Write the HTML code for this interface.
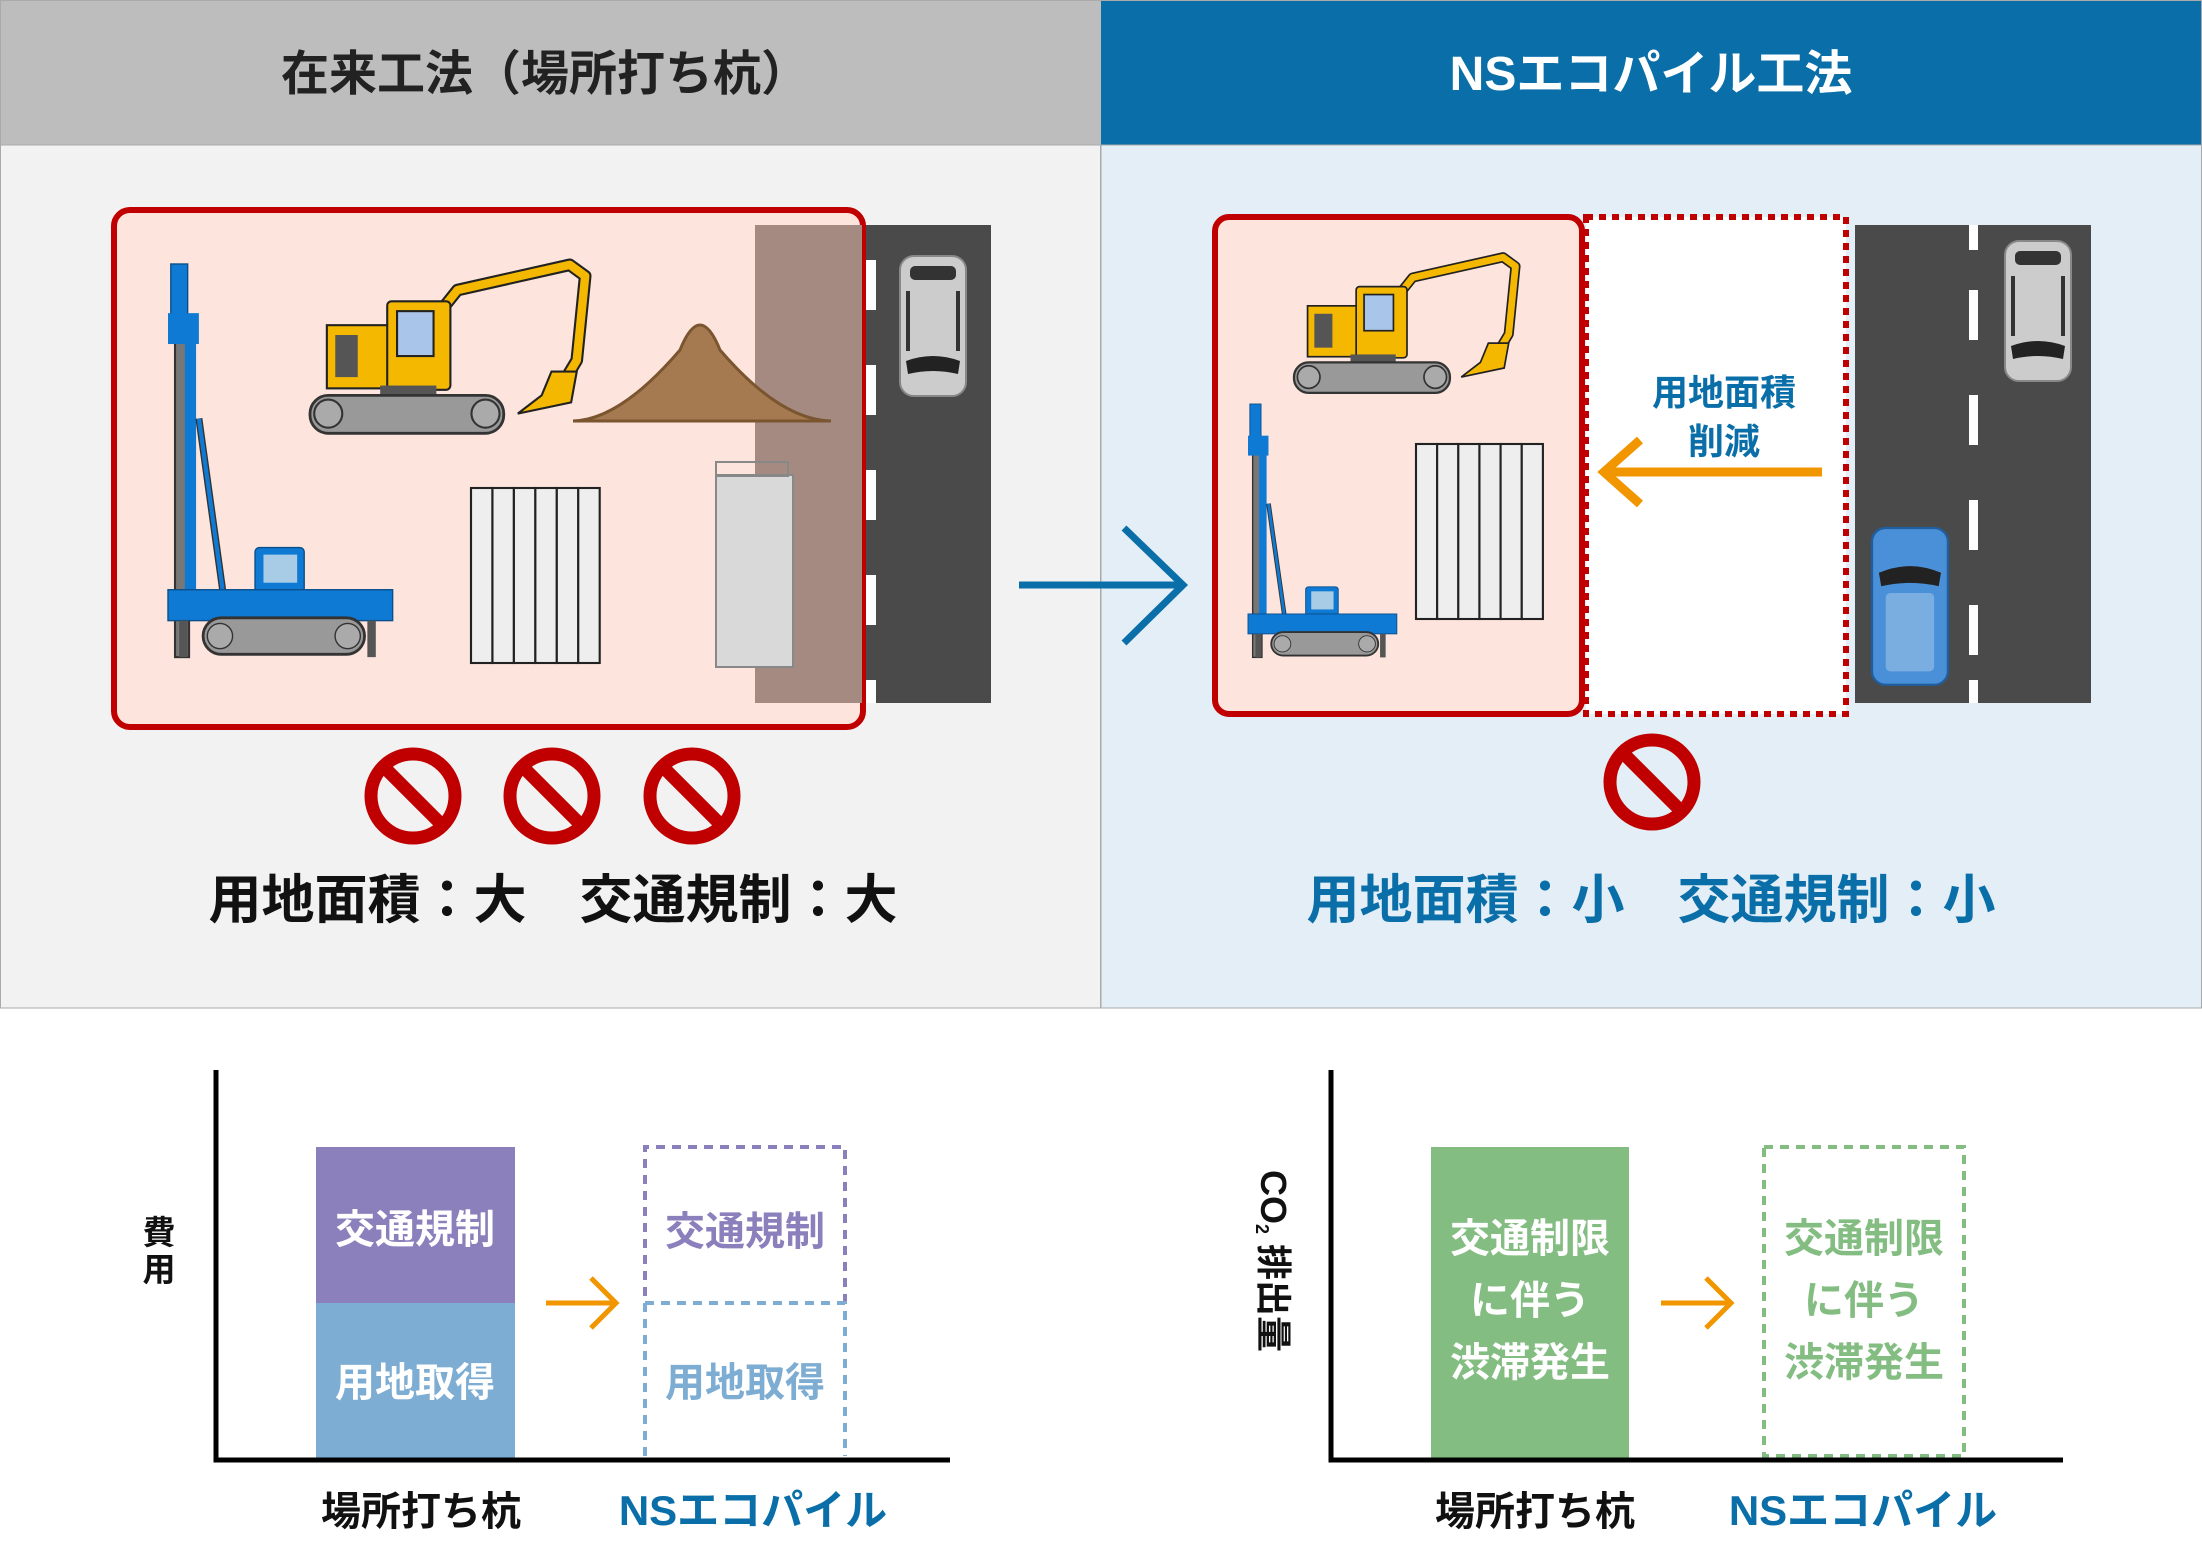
<!DOCTYPE html>
<html><head><meta charset="utf-8"><style>
html,body{margin:0;padding:0;background:#fff}
svg{display:block}
text{font-family:"Liberation Sans","Noto Sans CJK JP",sans-serif;font-weight:bold}
</style></head><body>
<svg width="2202" height="1547" viewBox="0 0 2202 1547" xmlns="http://www.w3.org/2000/svg">
<defs>
 <g id="exc">
  <path d="M85 45 L105 20 L185 2 L196 10 L190 70 L178 90" fill="none" stroke="#222" stroke-width="9" stroke-linejoin="round"/>
  <path d="M85 45 L105 20 L185 2 L196 10 L190 70 L178 90" fill="none" stroke="#f5b800" stroke-width="6" stroke-linejoin="round"/>
  <path d="M172 78 L190 78 L186 100 L148 108 L165 95 Z" fill="#f5b800" stroke="#222" stroke-width="1.5"/>
  <rect x="12" y="45" width="50" height="45" fill="#f5b800" stroke="#222" stroke-width="1.5"/>
  <rect x="55" y="28" width="45" height="63" rx="3" fill="#f5b800" stroke="#222" stroke-width="1.5"/>
  <rect x="62" y="35" width="26" height="32" fill="#a9c6ea" stroke="#222" stroke-width="1.5"/>
  <rect x="18" y="52" width="16" height="30" fill="#555"/>
  <rect x="50" y="88" width="40" height="8" fill="#555"/>
  <rect x="0" y="95" width="138" height="27" rx="13" fill="#999" stroke="#333" stroke-width="2"/>
  <circle cx="13" cy="108" r="10" fill="#aaa" stroke="#333" stroke-width="1.5"/>
  <circle cx="125" cy="108" r="10" fill="#aaa" stroke="#333" stroke-width="1.5"/>
 </g>
 <g id="pd">
  <rect x="5" y="40" width="10" height="240" fill="#777" stroke="#333" stroke-width="1.5"/>
  <rect x="2" y="0" width="12" height="55" fill="#0f7ad4" stroke="#0a4f8a" stroke-width="1"/>
  <rect x="0" y="35" width="22" height="22" fill="#0f7ad4"/>
  <rect x="12" y="40" width="8" height="200" fill="#0f7ad4"/>
  <path d="M22 110 L40 240" stroke="#333" stroke-width="5"/>
  <path d="M22 110 L40 240" stroke="#0f7ad4" stroke-width="3"/>
  <rect x="62" y="202" width="35" height="35" rx="3" fill="#0f7ad4" stroke="#0a4f8a"/>
  <rect x="68" y="207" width="24" height="20" fill="#a8cbe6"/>
  <rect x="0" y="232" width="160" height="22" fill="#0f7ad4" stroke="#0a4f8a"/>
  <rect x="25" y="252" width="115" height="26" rx="13" fill="#999" stroke="#333" stroke-width="2"/>
  <circle cx="37" cy="265" r="9" fill="#aaa" stroke="#333"/>
  <circle cx="128" cy="265" r="9" fill="#aaa" stroke="#333"/>
  <rect x="8" y="254" width="6" height="26" fill="#555"/>
  <rect x="142" y="254" width="6" height="26" fill="#555"/>
 </g>
 <g id="piles">
  <rect x="0" y="0" width="15" height="125" fill="#eee" stroke="#222" stroke-width="1.5"/>
  <rect x="15" y="0" width="15" height="125" fill="#eee" stroke="#222" stroke-width="1.5"/>
  <rect x="30" y="0" width="15" height="125" fill="#eee" stroke="#222" stroke-width="1.5"/>
  <rect x="45" y="0" width="15" height="125" fill="#eee" stroke="#222" stroke-width="1.5"/>
  <rect x="60" y="0" width="15" height="125" fill="#eee" stroke="#222" stroke-width="1.5"/>
  <rect x="75" y="0" width="15" height="125" fill="#eee" stroke="#222" stroke-width="1.5"/>
 </g>
 <g id="nosign">
  <circle cx="0" cy="0" r="42" fill="none" stroke="#c00000" stroke-width="13"/>
  <line x1="-30" y1="-30" x2="30" y2="30" stroke="#c00000" stroke-width="13"/>
 </g>
 <g id="car">
  <rect x="0" y="0" width="66" height="140" rx="14" fill="#ccc" stroke="#888" stroke-width="2"/>
  <rect x="10" y="10" width="46" height="14" rx="5" fill="#333"/>
  <path d="M6 105 Q33 95 60 105 L58 118 Q33 112 8 118 Z" fill="#222"/>
  <rect x="6" y="35" width="4" height="60" fill="#333"/>
  <rect x="56" y="35" width="4" height="60" fill="#333"/>
 </g>
</defs>

<rect x="0" y="0" width="1101" height="145" fill="#bdbdbd"/>
<rect x="1101" y="0" width="1101" height="145" fill="#0a6ea8"/>
<rect x="0.5" y="145" width="1100" height="863" fill="#f2f2f2" stroke="#aaa"/>
<rect x="1101" y="145" width="1100.5" height="863" fill="#e3eef6" stroke="#aaa"/>
<rect x="0.5" y="0.5" width="2201" height="1007.5" fill="none" stroke="#aaa"/>
<text x="545" y="90" font-size="48" text-anchor="middle" fill="#222">在来工法（場所打ち杭）</text>
<text x="1651" y="90" font-size="48" text-anchor="middle" fill="#fff">NSエコパイル工法</text>

<rect x="865" y="225" width="126" height="478" fill="#4a4a4a"/>
<g fill="#fff"><rect x="865" y="260" width="11" height="50"/><rect x="865" y="365" width="11" height="50"/><rect x="865" y="470" width="11" height="50"/><rect x="865" y="575" width="11" height="50"/><rect x="865" y="680" width="11" height="23"/></g>
<use href="#car" transform="translate(900,256)"/>
<rect x="114" y="210" width="749" height="517" rx="16" fill="#fde4dc" stroke="#c00000" stroke-width="6"/>
<rect x="755" y="225" width="107" height="478" fill="#a48a80"/>
<use href="#pd" transform="translate(168,264) scale(1.404)"/>
<use href="#exc" transform="translate(310,262) scale(1.404)"/>
<path d="M573 421 Q620 420 680 350 Q700 300 720 350 Q780 420 831 421 Z" fill="#a57a50" stroke="#7a5530" stroke-width="3"/>
<use href="#piles" transform="translate(471,488) scale(1.43,1.4)"/>
<rect x="716" y="475" width="77" height="192" fill="#d9d9d9" stroke="#888" stroke-width="2"/>
<rect x="716" y="462" width="72" height="14" fill="none" stroke="#888" stroke-width="2"/>
<use href="#nosign" transform="translate(413,796)"/>
<use href="#nosign" transform="translate(552,796)"/>
<use href="#nosign" transform="translate(692,796)"/>
<text x="553" y="918" font-size="53" text-anchor="middle" fill="#111">用地面積：大　交通規制：大</text>

<line x1="1019" y1="585" x2="1182" y2="585" stroke="#0a6ea8" stroke-width="7"/>
<polyline points="1124,528 1183,585 1124,643" fill="none" stroke="#0a6ea8" stroke-width="7"/>

<rect x="1855" y="225" width="236" height="478" fill="#4a4a4a"/>
<g fill="#fff"><rect x="1969" y="225" width="9" height="25"/><rect x="1969" y="290" width="9" height="50"/><rect x="1969" y="395" width="9" height="50"/><rect x="1969" y="500" width="9" height="50"/><rect x="1969" y="605" width="9" height="50"/><rect x="1969" y="680" width="9" height="23"/></g>
<use href="#car" transform="translate(2005,241)"/>
<g transform="translate(1872,528) scale(1.15,1.12)">
 <rect x="0" y="0" width="66" height="140" rx="12" fill="#4a90d9" stroke="#1f5fa0" stroke-width="2"/>
 <path d="M6 40 Q33 28 60 40 L58 52 Q33 46 8 52 Z" fill="#222"/>
 <rect x="12" y="58" width="42" height="70" rx="4" fill="#7aaee0"/>
</g>
<rect x="1586" y="217" width="260" height="497" fill="#fff" stroke="#c00000" stroke-width="6" stroke-dasharray="7,6"/>
<rect x="1215" y="217" width="367" height="497" rx="14" fill="#fde4dc" stroke="#c00000" stroke-width="6"/>
<use href="#exc" transform="translate(1294,255) scale(1.13)"/>
<use href="#pd" transform="translate(1248,404) scale(0.93,0.905)"/>
<use href="#piles" transform="translate(1416,444) scale(1.41,1.4)"/>
<line x1="1822" y1="472" x2="1604" y2="472" stroke="#f29600" stroke-width="9"/>
<polyline points="1640,440 1604,472 1640,504" fill="none" stroke="#f29600" stroke-width="9"/>
<text x="1724" y="405" font-size="36" text-anchor="middle" fill="#0a6ea8">用地面積</text>
<text x="1724" y="454" font-size="36" text-anchor="middle" fill="#0a6ea8">削減</text>
<use href="#nosign" transform="translate(1652,782)"/>
<text x="1651" y="918" font-size="53" text-anchor="middle" fill="#0a6ea8">用地面積：小　交通規制：小</text>

<rect x="316" y="1147" width="199" height="156" fill="#8b80bc"/>
<rect x="316" y="1303" width="199" height="155" fill="#7eadd3"/>
<text x="415" y="1243" font-size="40" text-anchor="middle" fill="#fff">交通規制</text>
<text x="415" y="1396" font-size="40" text-anchor="middle" fill="#fff">用地取得</text>
<path d="M645 1456 V1147 H845 V1303" fill="none" stroke="#8b80bc" stroke-width="4" stroke-dasharray="9,7"/>
<path d="M645 1303 H845 V1456" fill="none" stroke="#7eadd3" stroke-width="4" stroke-dasharray="9,7"/>
<path d="M645 1303 V1456" fill="none" stroke="#7eadd3" stroke-width="4" stroke-dasharray="9,7"/>
<text x="745" y="1245" font-size="40" text-anchor="middle" fill="#8b80bc">交通規制</text>
<text x="745" y="1396" font-size="40" text-anchor="middle" fill="#7eadd3">用地取得</text>
<line x1="546" y1="1303" x2="614" y2="1303" stroke="#f29600" stroke-width="5"/>
<polyline points="591,1278 616,1303 591,1328" fill="none" stroke="#f29600" stroke-width="5"/>
<path d="M216 1070 V1460 H950" fill="none" stroke="#000" stroke-width="5"/>
<text x="159" y="1244" font-size="33" text-anchor="middle" fill="#111">費</text>
<text x="159" y="1281" font-size="33" text-anchor="middle" fill="#111">用</text>
<text x="421" y="1525" font-size="40" text-anchor="middle" fill="#111">場所打ち杭</text>
<text x="753" y="1525" font-size="42" text-anchor="middle" fill="#0a6ea8">NSエコパイル</text>

<rect x="1431" y="1147" width="198" height="311" fill="#84bd82"/>
<text x="1530" y="1252" font-size="40" text-anchor="middle" fill="#fff">交通制限</text>
<text x="1530" y="1314" font-size="40" text-anchor="middle" fill="#fff">に伴う</text>
<text x="1530" y="1376" font-size="40" text-anchor="middle" fill="#fff">渋滞発生</text>
<rect x="1764" y="1147" width="200" height="309" fill="none" stroke="#84bd82" stroke-width="4" stroke-dasharray="9,7"/>
<text x="1864" y="1252" font-size="40" text-anchor="middle" fill="#84bd82">交通制限</text>
<text x="1864" y="1314" font-size="40" text-anchor="middle" fill="#84bd82">に伴う</text>
<text x="1864" y="1376" font-size="40" text-anchor="middle" fill="#84bd82">渋滞発生</text>
<line x1="1661" y1="1303" x2="1729" y2="1303" stroke="#f29600" stroke-width="5"/>
<polyline points="1706,1278 1731,1303 1706,1328" fill="none" stroke="#f29600" stroke-width="5"/>
<path d="M1331 1070 V1460 H2063" fill="none" stroke="#000" stroke-width="5"/>
<text transform="translate(1261,1170) rotate(90)" font-size="36" fill="#111">CO<tspan font-size="18" dy="5">2</tspan><tspan dy="-5"> 排出量</tspan></text>
<text x="1535" y="1525" font-size="40" text-anchor="middle" fill="#111">場所打ち杭</text>
<text x="1863" y="1525" font-size="42" text-anchor="middle" fill="#0a6ea8">NSエコパイル</text>
</svg>
</body></html>
